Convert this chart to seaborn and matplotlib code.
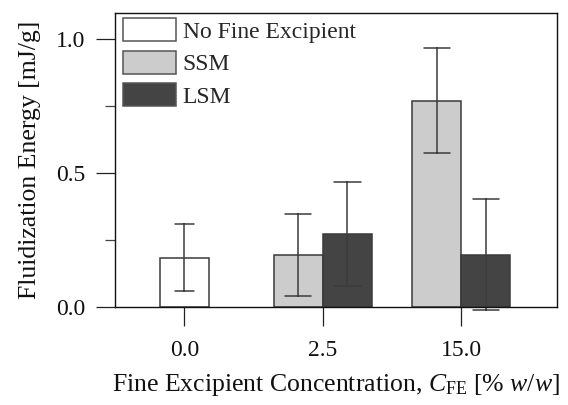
import matplotlib
matplotlib.use("Agg")
import matplotlib.pyplot as plt
from matplotlib.patches import Patch
from matplotlib.ticker import MultipleLocator
import numpy as np
import pandas as pd
import seaborn as sns

# ---- data ----
concentrations = ["0.0", "2.5", "15.0"]
series = ["No Fine Excipient", "SSM", "LSM"]
bar_conc = ["0.0", "2.5", "2.5", "15.0", "15.0"]
bar_series = ["No Fine Excipient", "SSM", "LSM", "SSM", "LSM"]
energy = [0.186, 0.197, 0.273, 0.771, 0.197]
energy_err = [0.125, 0.153, 0.194, 0.196, 0.206]
y_ticks = [0.0, 0.5, 1.0]
colors = {"No Fine Excipient": "#ffffff", "SSM": "#cccccc", "LSM": "#444444"}

# long form: each bar is given by its lower and upper error bound, mean = value
rows = []
for c, s, v, e in zip(bar_conc, bar_series, energy, energy_err):
    rows.append({"conc": c, "series": s, "energy": v - e})
    rows.append({"conc": c, "series": s, "energy": v + e})
df = pd.DataFrame(rows)

sns.set_theme(style="ticks")
plt.rcParams["font.family"] = ["Liberation Serif", "DejaVu Serif"]
plt.rcParams["mathtext.fontset"] = "custom"
plt.rcParams["mathtext.rm"] = "Liberation Serif"
plt.rcParams["mathtext.it"] = "Liberation Serif:italic"

fig = plt.figure(figsize=(5.68, 4.05), dpi=100)
ax = fig.add_axes([0.2033, 0.2412, 0.7773, 0.7274])

bar_w = 0.354
cap_frac = 0.38
for c in concentrations:
    sub = df[df["conc"] == c]
    hue_order = [s for s in series if s in set(sub["series"])]
    n = len(hue_order)
    sns.barplot(data=sub, x="conc", y="energy", hue="series",
                order=concentrations, hue_order=hue_order,
                palette=colors, saturation=1, dodge=True,
                width=bar_w * n,
                estimator="mean",
                errorbar=lambda v: (v.min(), v.max()),
                capsize=cap_frac if n > 1 else cap_frac * bar_w,
                err_kws={"color": "#3c3c3c", "linewidth": 1.1},
                edgecolor="#3a3a3a", linewidth=1.1,
                legend=False, ax=ax)

for ln in ax.lines:
    ln.set_clip_on(False)

ax.set_xlim(-0.497, 2.69)
ax.set_ylim(0, 1.1)
ax.yaxis.set_major_locator(MultipleLocator(0.5))
ax.yaxis.set_minor_locator(MultipleLocator(0.25))
ax.set_yticks(y_ticks)
ax.set_yticklabels([f"{t:.1f}" for t in y_ticks])
ax.set_xticks(range(len(concentrations)))
ax.set_xticklabels(concentrations)

for side in ["left", "right", "top", "bottom"]:
    ax.spines[side].set_visible(True)
    ax.spines[side].set_color("#111111")
    ax.spines[side].set_linewidth(1.0)

ax.tick_params(axis="both", which="major", direction="out", length=13.5,
               width=0.9, color="#222222", labelsize=17, labelcolor="#111111")
ax.tick_params(axis="y", which="major", pad=8)
ax.tick_params(axis="x", which="major", pad=10)
ax.tick_params(axis="y", which="minor", direction="out", length=7,
               width=0.9, color="#444444")
ax.tick_params(axis="x", which="minor", length=0)

ax.set_ylabel("Fluidization Energy [mJ/g]", fontsize=18.5, color="#111111", labelpad=11)
ax.set_xlabel(r"Fine Excipient Concentration, $C_{\mathrm{FE}}$ [% $w$/$w$]",
              fontsize=18.5, color="#111111", labelpad=8)

handles = [Patch(facecolor=colors[s], edgecolor="#555555", linewidth=1.1, label=s)
           for s in series]
ax.legend(handles=handles, loc="upper left", bbox_to_anchor=(0.016, 0.981),
          frameon=False, fontsize=17, handlelength=2.25, handleheight=1.12,
          labelspacing=0.34, handletextpad=0.3, borderpad=0, borderaxespad=0)

fig.savefig("out.png", dpi=100)
